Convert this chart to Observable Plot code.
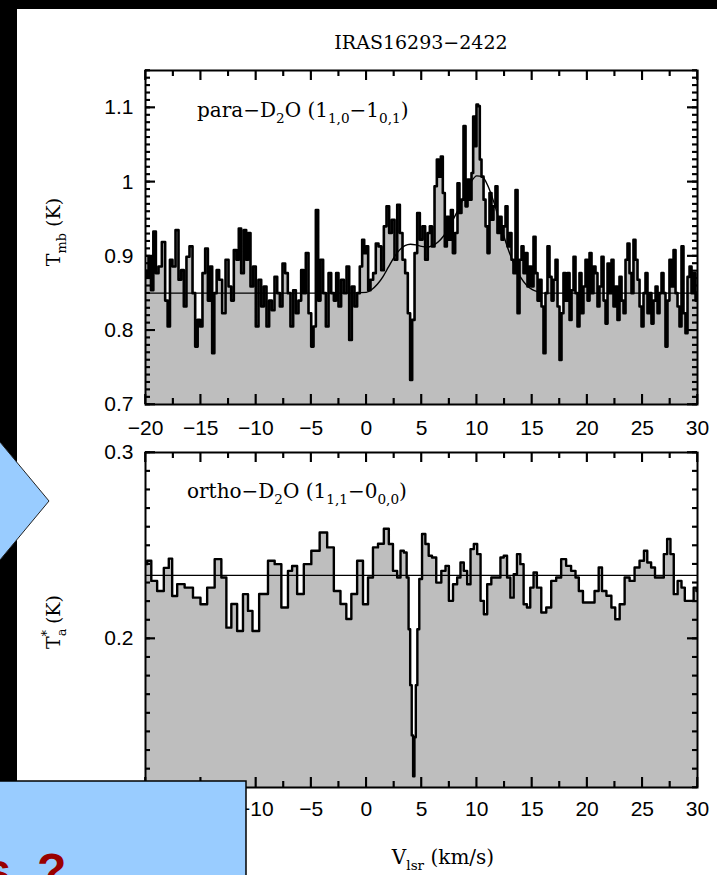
<!DOCTYPE html>
<html><head><meta charset="utf-8">
<script src="https://cdn.jsdelivr.net/npm/d3@7"></script>
<script src="https://cdn.jsdelivr.net/npm/@observablehq/plot@0.6"></script>
<style>
html,body{margin:0;padding:0;background:#000;}
#page{position:relative;width:717px;height:875px;overflow:hidden;background:#000;}
#panel{position:absolute;left:17px;top:9px;width:700px;height:866px;background:#fff;}
.abs{position:absolute;left:0;}
#ov,#deco{position:absolute;left:0;top:0;}
</style></head><body>
<div id="page">
  <div id="panel"></div>
  <div id="p1" class="abs" style="top:0px"></div>
  <div id="p2" class="abs" style="top:440px"></div>
  <svg id="ov" width="717" height="875"></svg>
  <svg id="deco" width="717" height="875"></svg>
</div>
<script>
// ---------- data ----------
const chartTitle = "IRAS16293\u22122422";
const xTicks = [-20, -15, -10, -5, 0, 5, 10, 15, 20, 25, 30];
const yTicksPara = [0.7, 0.8, 0.9, 1, 1.1];
const yTicksOrtho = [0.2, 0.3];

// para-D2O spectrum (km/s, K)
const paraV = [
  -20.00,-19.85,-19.61,-19.40,-19.18,-18.94,-18.70,-18.34,-18.10,-17.89,
  -17.68,-17.43,-17.13,-16.89,-16.65,-16.41,-16.17,-15.86,-15.62,-15.38,
  -15.17,-14.96,-14.72,-14.47,-14.23,-14.05,-13.87,-13.66,-13.45,-13.21,
  -12.90,-12.60,-12.36,-12.12,-11.88,-11.64,-11.46,-11.21,-10.97,-10.79,
  -10.61,-10.37,-10.13,-9.89,-9.64,-9.40,-9.16,-8.92,-8.68,-8.44,
  -8.19,-7.95,-7.71,-7.47,-7.23,-6.99,-6.75,-6.50,-6.26,-6.02,
  -5.78,-5.60,-5.36,-5.11,-4.87,-4.69,-4.45,-4.27,-4.03,-3.79,
  -3.54,-3.30,-3.06,-2.82,-2.64,-2.40,-2.16,-1.91,-1.67,-1.43,
  -1.19,-0.95,-0.71,-0.47,-0.28,-0.10,0.08,0.26,0.50,0.74,
  0.98,1.23,1.47,1.71,1.95,2.19,2.43,2.68,2.92,3.16,
  3.40,3.64,3.88,4.06,4.25,4.49,4.73,4.97,5.21,5.45,
  5.69,5.82,6.06,6.30,6.48,6.66,6.84,7.02,7.20,7.39,
  7.57,7.75,7.93,8.17,8.35,8.53,8.71,8.90,9.08,9.26,
  9.44,9.62,9.74,9.92,10.04,10.22,10.34,10.53,10.71,10.89,
  11.07,11.25,11.43,11.61,11.79,11.97,12.16,12.34,12.52,12.70,
  12.88,13.06,13.24,13.42,13.61,13.79,13.97,14.15,14.33,14.51,
  14.69,14.87,15.05,15.24,15.42,15.60,15.78,15.96,16.14,16.32,
  16.50,16.69,16.87,17.05,17.23,17.41,17.59,17.77,17.95,18.13,
  18.32,18.50,18.68,18.86,19.04,19.22,19.40,19.58,19.76,19.95,
  20.13,20.31,20.49,20.67,20.85,21.03,21.21,21.40,21.58,21.76,
  21.94,22.12,22.30,22.48,22.66,22.84,23.03,23.21,23.39,23.57,
  23.75,23.93,24.11,24.29,24.47,24.66,24.84,25.02,25.20,25.38,
  25.56,25.74,25.92,26.11,26.29,26.47,26.65,26.83,27.01,27.19,
  27.37,27.55,27.74,27.92,28.10,28.28,28.46,28.64,28.82,29.00,
  29.19,29.37,29.55,29.73,29.91,30.00
];
const paraT = [
  0.880,0.872,0.899,0.854,0.933,0.877,0.886,0.919,0.840,0.805,
  0.895,0.886,0.935,0.868,0.881,0.832,0.899,0.913,0.850,0.778,
  0.814,0.805,0.877,0.910,0.840,0.886,0.769,0.850,0.881,0.868,
  0.823,0.895,0.859,0.840,0.908,0.895,0.937,0.877,0.935,0.895,
  0.931,0.859,0.886,0.805,0.868,0.832,0.859,0.805,0.840,0.827,
  0.872,0.850,0.832,0.890,0.877,0.850,0.805,0.854,0.823,0.840,
  0.881,0.850,0.904,0.823,0.778,0.805,0.962,0.840,0.895,0.850,
  0.805,0.877,0.850,0.840,0.877,0.832,0.868,0.850,0.886,0.787,
  0.859,0.832,0.850,0.886,0.922,0.904,0.913,0.854,0.868,0.877,
  0.917,0.913,0.881,0.940,0.967,0.931,0.949,0.895,0.969,0.931,
  0.895,0.877,0.823,0.733,0.814,0.904,0.958,0.922,0.940,0.895,
  0.931,0.940,0.913,0.994,1.030,1.007,1.034,0.985,0.913,0.953,
  0.922,0.962,0.904,0.931,0.998,0.958,0.976,1.075,0.967,1.003,
  0.976,1.012,1.088,1.048,1.104,1.102,1.030,1.007,0.976,0.940,
  0.904,0.985,0.949,0.967,0.994,0.931,0.953,0.922,0.940,0.967,
  0.913,0.931,0.895,0.877,0.989,0.823,0.895,0.913,0.877,0.904,
  0.859,0.886,0.859,0.926,0.877,0.840,0.868,0.832,0.769,0.850,
  0.913,0.872,0.840,0.868,0.895,0.832,0.760,0.823,0.877,0.840,
  0.877,0.814,0.854,0.899,0.850,0.805,0.877,0.823,0.859,0.895,
  0.840,0.904,0.850,0.886,0.877,0.832,0.859,0.899,0.840,0.809,
  0.890,0.850,0.895,0.832,0.859,0.814,0.872,0.840,0.823,0.895,
  0.917,0.877,0.850,0.922,0.895,0.868,0.832,0.805,0.850,0.877,
  0.823,0.850,0.809,0.840,0.859,0.823,0.850,0.877,0.850,0.778,
  0.840,0.895,0.859,0.908,0.850,0.832,0.805,0.913,0.823,0.796,
  0.872,0.886,0.850,0.877,0.840,0.850
];

// smooth fit over the para-D2O line
const fitV = [-20,-10,-2,0,0.5,1,1.5,2,2.5,3,3.5,4,4.5,5,5.5,6,6.5,7,7.5,8,8.5,9,9.5,10,10.5,11,11.5,12,12.5,13,13.5,14,14.5,15,15.5,16,20,30];
const fitT = [0.85,0.85,0.85,0.851,0.855,0.862,0.872,0.885,0.898,0.908,0.914,0.916,0.915,0.913,0.912,0.914,0.919,0.927,0.939,0.953,0.968,0.985,1.000,1.008,1.007,0.995,0.975,0.950,0.925,0.903,0.885,0.871,0.861,0.855,0.852,0.850,0.850,0.850];

// ortho-D2O spectrum (km/s, K)
const orthoV = [
  -20.00,-19.70,-19.25,-18.64,-18.04,-17.74,-17.43,-16.83,-16.08,-15.32,
  -14.72,-14.11,-13.36,-12.90,-12.45,-12.00,-11.40,-10.94,-10.49,-10.13,
  -9.28,-8.53,-8.07,-7.32,-6.87,-6.57,-5.96,-5.36,-4.60,-3.85,
  -3.24,-2.64,-2.04,-1.58,-1.13,-0.53,-0.07,0.38,0.83,1.29,
  1.89,2.19,2.64,2.95,3.25,3.55,3.76,3.90,4.05,4.18,
  4.30,4.42,4.55,4.70,4.90,5.20,5.50,5.80,6.10,6.57,
  7.02,7.33,7.63,8.08,8.38,8.68,8.98,9.29,9.59,9.89,
  10.20,10.50,10.80,11.10,11.55,12.00,12.30,12.60,12.90,13.20,
  13.50,13.80,14.10,14.40,14.70,15.00,15.30,15.60,16.10,16.50,
  17.00,17.40,17.90,18.30,18.80,19.10,19.40,19.85,20.45,20.90,
  21.20,21.50,22.00,22.40,22.70,23.20,23.60,24.10,24.50,25.00,
  25.30,25.60,26.00,26.30,26.80,27.10,27.40,27.70,28.00,28.40,
  28.70,29.00,29.50,29.80,30.00
];
const orthoT = [
  0.2400,0.2418,0.2310,0.2256,0.2380,0.2430,0.2229,0.2293,0.2274,0.2220,
  0.2185,0.2274,0.2427,0.2328,0.2059,0.2186,0.2041,0.2239,0.2149,0.2041,
  0.2240,0.2418,0.2400,0.2167,0.2364,0.2390,0.2240,0.2400,0.2472,0.2570,
  0.2490,0.2256,0.2186,0.2105,0.2240,0.2418,0.2185,0.2328,0.2490,0.2510,
  0.2590,0.2508,0.2364,0.2328,0.2472,0.2463,0.2328,0.2050,0.1750,0.1480,
  0.1260,0.1470,0.1750,0.2050,0.2320,0.2562,0.2508,0.2445,0.2436,0.2301,
  0.2364,0.2391,0.2203,0.2292,0.2328,0.2409,0.2364,0.2292,0.2481,0.2508,
  0.2454,0.2203,0.2131,0.2292,0.2328,0.2328,0.2436,0.2445,0.2328,0.2220,
  0.2346,0.2454,0.2400,0.2185,0.2167,0.2274,0.2355,0.2274,0.2140,0.2167,
  0.2310,0.2328,0.2427,0.2391,0.2364,0.2328,0.2256,0.2194,0.2194,0.2256,
  0.2382,0.2256,0.2230,0.2167,0.2104,0.2185,0.2328,0.2310,0.2382,0.2418,
  0.2472,0.2409,0.2382,0.2328,0.2328,0.2454,0.2535,0.2454,0.2239,0.2310,
  0.2274,0.2203,0.2203,0.2274,0.2256
];
const orthoBaseline = [0.234];

// ---------- tables ----------
const paraRows = paraV.map((v, i) => ({v, t: paraT[i]}));
const fitRows = fitV.map((v, i) => ({v, t: fitT[i]}));
const orthoRows = orthoV.map((v, i) => ({v, t: orthoT[i]}));

const fmtX = d => d < 0 ? "\u2212" + (-d) : String(d);
const fmtY = d => String(d);
const xMinor = d3.range(-17.5, 30, 5);
const yMinorPara = d3.range(70, 116).map(d => d / 100);
const yMinorOrtho = d3.range(12, 31).map(d => d / 100);

// inward ticks on all four sides, drawn as short rules inset from the frame
function frameTicks(xMaj, xMin, yMaj, yMin, W, H, xPad) {
  const s = {stroke: "black", strokeWidth: 1.6};
  return [
    Plot.ruleX(xMaj, {...s, insetTop: H - 10}),
    Plot.ruleX(xMaj, {...s, insetBottom: H - 10}),
    Plot.ruleX(xMin, {...s, insetTop: H - 6}),
    Plot.ruleX(xMin, {...s, insetBottom: H - 6}),
    Plot.ruleY(yMaj, {...s, insetRight: W - 10}),
    Plot.ruleY(yMaj, {...s, insetLeft: W - 10}),
    Plot.ruleY(yMin, {...s, insetRight: W - 5}),
    Plot.ruleY(yMin, {...s, insetLeft: W - 5}),
    Plot.axisX(xMaj, {anchor: "bottom", tickSize: 0, tickPadding: xPad, tickFormat: fmtX, label: null, fill: "black", fontSize: 21}),
    Plot.axisY(yMaj, {anchor: "left", tickSize: 0, tickPadding: 12, tickFormat: fmtY, label: null, fill: "black", fontSize: 21})
  ];
}

const plotStyle = {background: "transparent", fontFamily: "'Liberation Sans', Arial, sans-serif", fontSize: "21px", color: "black", overflow: "visible"};

const topPlot = Plot.plot({
  width: 717, height: 440,
  marginLeft: 145, marginRight: 20, marginTop: 70, marginBottom: 36,
  x: {domain: [-20, 30], label: null},
  y: {domain: [0.7, 1.15], label: null},
  style: plotStyle,
  marks: [
    Plot.areaY(paraRows, {x: "v", y1: 0.7, y2: "t", curve: "step", fill: "#bebebe", clip: true}),
    Plot.lineY(fitRows, {x: "v", y: "t", curve: "monotone-x", stroke: "black", strokeWidth: 1.4, clip: true}),
    Plot.lineY(paraRows, {x: "v", y: "t", curve: "step", stroke: "black", strokeWidth: 2.6, clip: true}),
    Plot.frame({stroke: "black", strokeWidth: 2}),
    ...frameTicks(xTicks, xMinor, yTicksPara, yMinorPara, 552, 334, 16)
  ]
});
document.getElementById("p1").appendChild(topPlot);

const bottomPlot = Plot.plot({
  width: 717, height: 435,
  marginLeft: 145, marginRight: 20, marginTop: 12, marginBottom: 88,
  x: {domain: [-20, 30], label: null},
  y: {domain: [0.12, 0.3], label: null},
  style: plotStyle,
  marks: [
    Plot.areaY(orthoRows, {x: "v", y1: 0.12, y2: "t", curve: "step", fill: "#bebebe", clip: true}),
    Plot.ruleY(orthoBaseline, {stroke: "black", strokeWidth: 1.4}),
    Plot.lineY(orthoRows, {x: "v", y: "t", curve: "step", stroke: "black", strokeWidth: 2.4, clip: true}),
    Plot.frame({stroke: "black", strokeWidth: 2}),
    ...frameTicks(xTicks, xMinor, yTicksOrtho, yMinorOrtho, 552, 335, 14)
  ]
});
document.getElementById("p2").appendChild(bottomPlot);

// ---------- overlay: inward ticks placed with each plot's own scales ----------
const ov = d3.select("#ov");
function overlayTicks(plot, oy, xMaj, xMin, yMaj, yMin) {
  const sx = plot.scale("x"), sy = plot.scale("y");
  const left = Math.min(...sx.range), right = Math.max(...sx.range);
  const topY = Math.min(...sy.range) + oy, botY = Math.max(...sy.range) + oy;
  const g = ov.append("g").attr("stroke", "black").attr("stroke-width", 1.6);
  const seg = (x1, y1, x2, y2) => g.append("line").attr("x1", x1).attr("y1", y1).attr("x2", x2).attr("y2", y2);
  for (const [vals, len] of [[xMaj, 10], [xMin, 6]]) {
    for (const v of vals) {
      const x = sx.apply(v);
      seg(x, botY, x, botY - len);
      seg(x, topY, x, topY + len);
    }
  }
  for (const [vals, len] of [[yMaj, 10], [yMin, 5]]) {
    for (const v of vals) {
      const y = sy.apply(v) + oy;
      seg(left, y, left + len, y);
      seg(right, y, right - len, y);
    }
  }
}
overlayTicks(topPlot, 0, xTicks, xMinor, yTicksPara, yMinorPara);
overlayTicks(bottomPlot, 440, xTicks, xMinor, yTicksOrtho, yMinorOrtho);

// ---------- text labels ----------
const serif = "'DejaVu Serif', serif";
function rich(el, parts, size) {
  let shift = 0;
  for (const p of parts) {
    const [t, mode, dx] = p;
    const target = mode === 1 ? size * 0.32 : mode === 2 ? -size * 0.45 : 0;
    const ts = el.append("tspan").attr("dy", target - shift)
      .attr("font-size", mode ? size * 0.68 : size).text(t);
    if (dx) ts.attr("dx", dx);
    shift = target;
  }
}
ov.append("text").attr("x", 421).attr("y", 49).attr("text-anchor", "middle")
  .attr("font-family", serif).attr("font-size", 19).text(chartTitle);
rich(ov.append("text").attr("x", 197).attr("y", 117).attr("text-anchor", "start").attr("font-family", serif),
  [["para\u2212D"], ["2", 1], ["O (1"], ["1,0", 1], ["\u22121"], ["0,1", 1], [")"]], 20);
rich(ov.append("text").attr("x", 187).attr("y", 498).attr("text-anchor", "start").attr("font-family", serif),
  [["ortho\u2212D"], ["2", 1], ["O (1"], ["1,1", 1], ["\u22120"], ["0,0", 1], [")"]], 20);
rich(ov.append("text").attr("transform", "translate(60,232) rotate(-90)")
  .attr("text-anchor", "middle").attr("font-family", serif),
  [["T"], ["mb", 1], [" (K)"]], 19);
rich(ov.append("text").attr("transform", "translate(60,622) rotate(-90)")
  .attr("text-anchor", "middle").attr("font-family", serif),
  [["T"], ["a", 1], ["*", 2, -8], [" (K)"]], 19);
rich(ov.append("text").attr("x", 443).attr("y", 864).attr("text-anchor", "middle")
  .attr("font-family", serif),
  [["V"], ["lsr", 1], [" (km/s)"]], 20);

// ---------- slide decorations ----------
const deco = d3.select("#deco");
deco.append("polygon").attr("points", "-5,436 49,501 -5,566")
  .attr("fill", "#99ccff").attr("stroke", "#222").attr("stroke-width", 1);
deco.append("rect").attr("x", -2).attr("y", 781).attr("width", 248).attr("height", 100)
  .attr("fill", "#99ccff").attr("stroke", "#000").attr("stroke-width", 1.5);
deco.append("text").attr("x", 11).attr("y", 887).attr("text-anchor", "end")
  .attr("font-family", "'Liberation Sans', Arial, sans-serif").attr("font-weight", "bold")
  .attr("font-size", 48).attr("fill", "#990000").text("s");
deco.append("text").attr("x", 37).attr("y", 887)
  .attr("font-family", "'Liberation Sans', Arial, sans-serif").attr("font-weight", "bold")
  .attr("font-size", 48).attr("fill", "#990000").text("?");
</script>
</body></html>
